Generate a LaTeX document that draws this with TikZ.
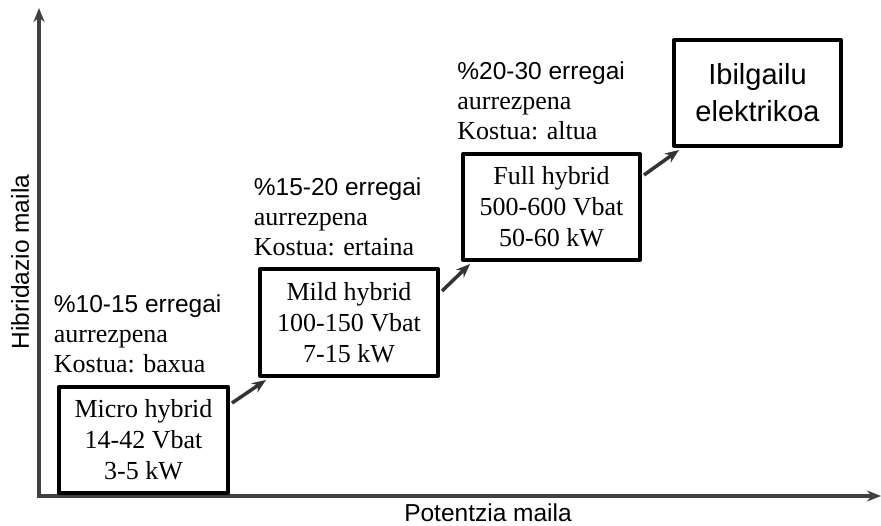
\documentclass[tikz,border=0pt]{standalone}
\usepackage{fontspec}
\setmainfont{Liberation Serif}
\setsansfont{Liberation Sans}
\usetikzlibrary{positioning,arrows.meta}

\begin{document}
\begin{tikzpicture}[x=1pt,y=1pt,line join=round,>={Stealth[length=14pt,width=11pt]},thick]
\tikzset{every node/.style={inner sep=0pt}}
\tikzset{mota/.style={draw,line width=4pt,align=center,minimum height=106pt,font=\fontsize{26}{31}\selectfont}}
\tikzset{oharra/.style={anchor=south west,align=left,font=\fontsize{26}{30}\selectfont}}
\tikzset{gezia/.style={->,line width=3.5pt,draw=black!80}}
\useasboundingbox (0,0) rectangle (881,525);
\draw[->,line width=3.5pt,black!75] (39,29)--(39,517);
\draw[->,line width=3.5pt,black!75] (37.25,29)--(881,29);
\node[rotate=90,font=\sffamily\fontsize{24.5}{30}\selectfont] (ardatzy) at (20,263) {Hibridazio maila};
\node[anchor=base,font=\sffamily\fontsize{24.5}{30}\selectfont] (ardatzx) at (488,4) {Potentzia maila};
\node[mota,minimum width=169pt] (mikro) at (143.5,85) {Micro hybrid\\14-42 Vbat\\3-5 kW};
\node[mota,minimum width=178pt,minimum height=107pt] (mild) at (349,202.5) {Mild hybrid\\100-150 Vbat\\7-15 kW};
\node[mota,minimum width=177pt] (full) at (551.5,318) {Full hybrid\\500-600 Vbat\\50-60 kW};
\node[mota,minimum width=167pt,font=\sffamily\fontsize{29}{37}\selectfont] (elek) at (757.5,432) {Ibilgailu\\elektrikoa};
\node[oharra] (ohar1) at ([xshift=-3.5pt,yshift=11.5pt]mikro.north west) {{\sffamily\fontsize{24.5}{30}\selectfont\%10-15 erregai}\\aurrezpena\\Kostua: baxua};
\node[oharra] (ohar2) at ([xshift=-4.5pt,yshift=11pt]mild.north west) {{\sffamily\fontsize{24.5}{30}\selectfont\%15-20 erregai}\\aurrezpena\\Kostua: ertaina};
\node[oharra] (ohar3) at ([xshift=-4pt,yshift=11.5pt]full.north west) {{\sffamily\fontsize{24.5}{30}\selectfont\%20-30 erregai}\\aurrezpena\\Kostua: altua};
\draw[gezia] ([xshift=2pt,yshift=-18pt]mikro.north east)--([xshift=8pt,yshift=-2pt]mild.south west);
\draw[gezia] ([xshift=2pt,yshift=-24pt]mild.north east)--([xshift=9pt,yshift=-2pt]full.south west);
\draw[gezia] ([xshift=2pt,yshift=-23pt]full.north east)--([xshift=7pt,yshift=-2pt]elek.south west);
\end{tikzpicture}
\end{document}
